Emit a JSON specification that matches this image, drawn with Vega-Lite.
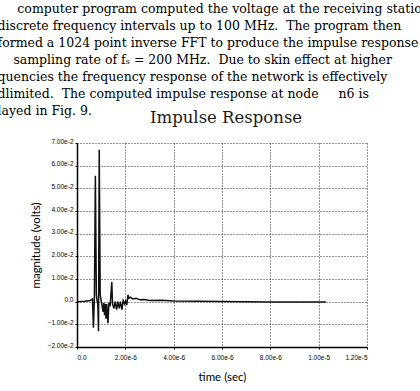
{
  "$schema": "https://vega.github.io/schema/vega-lite/v6.json",
  "autosize": "none",
  "width": 290,
  "height": 204,
  "padding": {"left": 77, "top": 143, "right": 53, "bottom": 44},
  "background": "white",
  "title": {
    "text": "Impulse Response",
    "font": "DejaVu Serif",
    "fontSize": 16.5,
    "fontWeight": "normal",
    "color": "#1a1a1a",
    "anchor": "start",
    "frame": "group",
    "baseline": "alphabetic",
    "dx": 73,
    "dy": 141
  },
  "config": {
    "view": {"stroke": null},
    "axis": {
      "gridColor": "#000",
      "gridDash": [1, 2],
      "gridOpacity": 0.85,
      "gridWidth": 1,
      "domainColor": "#000",
      "domainWidth": 1.5,
      "tickColor": "#000",
      "tickSize": 2,
      "labelColor": "#000",
      "labelFont": "Liberation Sans",
      "labelFontSize": 6.5,
      "titleColor": "#000",
      "titleFont": "Lato",
      "titleFontSize": 11.5,
      "titleFontWeight": "normal"
    }
  },
  "data": {
    "values": [
      {"t": 0, "v": 0},
      {"t": 3.0e-7, "v": 0.0002},
      {"t": 5.5e-7, "v": 0.0005},
      {"t": 6.4e-7, "v": 0.0012},
      {"t": 6.8e-7, "v": -0.0115},
      {"t": 7.2e-7, "v": 0.002},
      {"t": 7.6e-7, "v": 0.0555},
      {"t": 8.0e-7, "v": 0.003},
      {"t": 8.3e-7, "v": 0.0005},
      {"t": 8.6e-7, "v": -0.001},
      {"t": 8.9e-7, "v": -0.013},
      {"t": 9.2e-7, "v": 0.067},
      {"t": 9.6e-7, "v": 0.003},
      {"t": 1.0e-6, "v": 0.0005},
      {"t": 1.04e-6, "v": -0.002},
      {"t": 1.08e-6, "v": -0.0045},
      {"t": 1.11e-6, "v": -0.0005},
      {"t": 1.14e-6, "v": -0.006},
      {"t": 1.17e-6, "v": -0.001},
      {"t": 1.20e-6, "v": -0.0075},
      {"t": 1.23e-6, "v": -0.001},
      {"t": 1.28e-6, "v": -0.0095},
      {"t": 1.32e-6, "v": -0.0005},
      {"t": 1.37e-6, "v": -0.002},
      {"t": 1.44e-6, "v": 0.0087},
      {"t": 1.47e-6, "v": -0.001},
      {"t": 1.53e-6, "v": -0.003},
      {"t": 1.58e-6, "v": 0.0},
      {"t": 1.64e-6, "v": -0.0035},
      {"t": 1.69e-6, "v": 0.0},
      {"t": 1.75e-6, "v": -0.003},
      {"t": 1.80e-6, "v": 0.0},
      {"t": 1.86e-6, "v": -0.0035},
      {"t": 1.91e-6, "v": 0.0005},
      {"t": 1.97e-6, "v": -0.001},
      {"t": 2.01e-6, "v": 0.0003},
      {"t": 2.06e-6, "v": -0.0015},
      {"t": 2.11e-6, "v": 0.003},
      {"t": 2.15e-6, "v": 0.0015},
      {"t": 2.21e-6, "v": 0.002},
      {"t": 2.30e-6, "v": 0.0012},
      {"t": 2.45e-6, "v": 0.0015},
      {"t": 2.60e-6, "v": 0.0008},
      {"t": 2.80e-6, "v": 0.001},
      {"t": 3.0e-6, "v": 0.0005},
      {"t": 3.5e-6, "v": 0.0006},
      {"t": 4.0e-6, "v": 0.0003},
      {"t": 5.0e-6, "v": 0.0002},
      {"t": 6.0e-6, "v": 0.0001},
      {"t": 7.0e-6, "v": 0.0},
      {"t": 8.0e-6, "v": -0.0001},
      {"t": 9.0e-6, "v": -0.0001},
      {"t": 1.03e-5, "v": -0.0002}
    ]
  },
  "layer": [
    {
      "mark": {"type": "line", "color": "#111", "strokeWidth": 1.5},
      "encoding": {
        "x": {
          "field": "t",
          "type": "quantitative",
          "scale": {"domain": [0, 1.2e-5], "nice": false, "zero": false},
          "axis": {
            "orient": "bottom",
            "values": [0, 2e-6, 4e-6, 6e-6, 8e-6, 1e-5, 1.2e-5],
            "labelExpr": "datum.value == 0 ? '0.0' : format(datum.value, '.2e')",
            "labelPadding": 5,
            "title": "time (sec)",
            "titlePadding": 11,
            "grid": true
          }
        },
        "y": {
          "field": "v",
          "type": "quantitative",
          "scale": {"domain": [-0.02, 0.07], "nice": false, "zero": false},
          "axis": {
            "values": [-0.02, -0.01, 0, 0.01, 0.02, 0.03, 0.04, 0.05, 0.06, 0.07],
            "labelExpr": "datum.value == 0 ? '0.0' : format(datum.value, '.2e')",
            "labelPadding": 2,
            "labelBaseline": "alphabetic",
            "title": "magnitude (volts)",
            "titlePadding": 6,
            "grid": true
          }
        }
      }
    },
    {
      "mark": {"type": "point", "opacity": 0},
      "encoding": {
        "x": {
          "field": "t",
          "type": "quantitative",
          "scale": {"domain": [0, 1.2e-5], "nice": false, "zero": false},
          "axis": {
            "orient": "top",
            "grid": false,
            "domain": false,
            "ticks": false,
            "labels": false,
            "title": [
              "\u200b\u00a0\u00a0\u00a0\u00a0\u00a0computer program computed the voltage at the receiving station",
              "discrete frequency intervals up to 100 MHz.\u00a0\u00a0The program then",
              "formed a 1024 point inverse FFT to produce the impulse response",
              "\u200b\u00a0\u00a0\u00a0\u00a0sampling rate of fₛ = 200 MHz.\u00a0\u00a0Due to skin effect at higher",
              "quencies the frequency response of the network is effectively",
              "dlimited.\u00a0\u00a0The computed impulse response at node\u00a0\u00a0\u00a0\u00a0\u00a0n6 is",
              "layed in Fig. 9."
            ],
            "titleFont": "DejaVu Serif",
            "titleFontSize": 12.5,
            "titleLineHeight": 17,
            "titleAlign": "left",
            "titleBaseline": "top",
            "titleX": -80,
            "titleY": -141
          }
        }
      }
    }
  ],
  "resolve": {"axis": {"x": "independent"}}
}
